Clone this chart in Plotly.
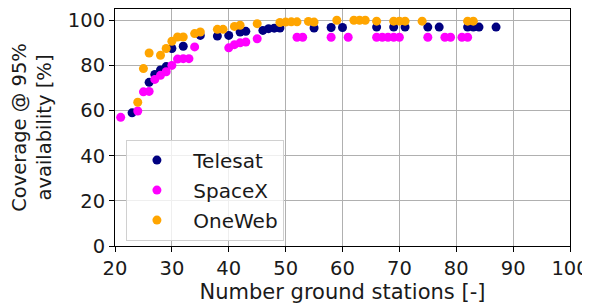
import plotly.graph_objects as go

telesat_x = [23, 26, 27, 28, 29, 30, 32, 35, 38, 40, 42, 43, 46, 47, 48, 49, 55, 58, 60, 66, 69, 71, 75, 77, 82, 83, 84, 87]
telesat_y = [59, 72.5, 76, 78, 79.5, 87.5, 88.5, 93.3, 93, 93.3, 94.8, 95.1, 95.5, 96.3, 96.5, 96.6, 96.6, 96.8, 96.8, 97, 97, 97, 97, 97, 97, 97, 97, 97]

spacex_x = [21, 24, 25, 26, 27, 28, 29, 30, 31, 32, 33, 34, 40, 41, 42, 43, 45, 52, 53, 58, 61, 66, 67, 68, 69, 70, 75, 78, 79, 81, 82]
spacex_y = [57, 59.8, 68.3, 68.5, 73.8, 75.6, 77.2, 80, 82.8, 83, 83, 88.2, 87.8, 89.2, 90, 90.4, 91.8, 92.5, 92.5, 92.5, 92.5, 92.5, 92.5, 92.5, 92.5, 92.5, 92.5, 92.5, 92.5, 92.5, 92.5]

oneweb_x = [24, 25, 26, 28, 29, 30, 31, 32, 34, 35, 38, 39, 41, 42, 45, 49, 50, 51, 52, 54, 55, 59, 62, 63, 64, 66, 69, 70, 71, 74, 82, 83]
oneweb_y = [63.7, 78.6, 85.5, 84.5, 87.5, 90.7, 92.6, 92.6, 94.1, 94.8, 96, 96, 97.3, 97.8, 98.5, 99, 99.2, 99.3, 99.3, 99.5, 99.2, 100, 100, 100, 100, 99.6, 99.6, 99.6, 99.6, 99.6, 99.6, 99.6]

x_ticks = [20, 30, 40, 50, 60, 70, 80, 90, 100]
y_ticks = [0, 20, 40, 60, 80, 100]

FONT = "DejaVu Sans"
TXT = "#1a1a1a"
fig = go.Figure()
for name, xs, ys, col in [("Telesat", telesat_x, telesat_y, "#000080"),
                          ("SpaceX", spacex_x, spacex_y, "#ff00ff"),
                          ("OneWeb", oneweb_x, oneweb_y, "#ffa500")]:
    fig.add_trace(go.Scatter(x=xs, y=ys, mode="markers", name="\u00a0" + name, legendgroup=name,
                             marker=dict(color=col, size=9, line=dict(width=0))))

axis_common = dict(showline=True, linecolor="black", linewidth=1, mirror=True,
                   showgrid=True, gridcolor="#b0b0b0", gridwidth=1,
                   ticks="outside", ticklen=5, tickcolor="black", zeroline=False,
                   tickfont=dict(family=FONT, size=19.5, color=TXT))
fig.update_xaxes(range=[20, 100], tickvals=x_ticks,
                 title=dict(text="Number ground stations [-]", font=dict(family=FONT, size=21, color=TXT), standoff=2),
                 **axis_common)
fig.update_yaxes(range=[0, 105], tickvals=y_ticks,
                 title=dict(text="Coverage @ 95%<br>availability [%]", font=dict(family=FONT, size=19.5, color=TXT), standoff=14),
                 **axis_common)

fig.update_layout(
    width=582, height=298,
    margin=dict(l=107, r=20, t=1, b=60, autoexpand=False),
    plot_bgcolor="white", paper_bgcolor="white",
    font=dict(family=FONT, size=19.5, color=TXT),
    legend=dict(x=0.024, y=0.449, xanchor="left", yanchor="top",
                bgcolor="rgba(255,255,255,0.8)", bordercolor="#d0d0d0", borderwidth=1,
                tracegroupgap=1, itemwidth=50,
                font=dict(family=FONT, size=20, color=TXT)),
)

fig.write_html("out.html")
